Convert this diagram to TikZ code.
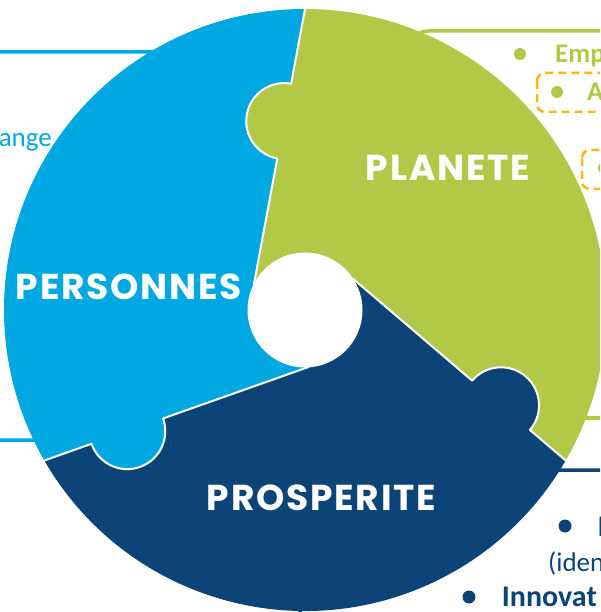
\documentclass[tikz,border=0pt]{standalone}
\usepackage{fontspec}
\setmainfont{Carlito}
\newfontfamily\piecefont[LetterSpace=5]{Poppins}
\usepackage{xcolor}
\usepackage{tikz}
\usetikzlibrary{positioning}

\definecolor{personnes}{RGB}{0,168,225}
\definecolor{planete}{RGB}{177,201,70}
\definecolor{prosperite}{RGB}{13,68,119}
\definecolor{goldline}{RGB}{253,183,20}

\begin{document}
\begin{tikzpicture}[x=1pt, y=1pt,
  seam/.style={white, line width=2pt, line join=round},
  box/.style={line width=3.5pt, rounded corners=18pt},
  dashbox/.style={goldline, line width=2.5pt, dash pattern=on 8pt off 5pt, rounded corners=8pt},
  bullet/.style={circle, fill, inner sep=0pt, minimum size=12pt},
  piece/.style={text=white, inner sep=0pt, font=\piecefont\bfseries\fontsize{36}{36}\selectfont},
  side/.style={inner sep=0pt, anchor=base west, font=\fontsize{27}{30}\selectfont},
  sidebold/.style={side, font=\bfseries\fontsize{27}{30}\selectfont}]

\useasboundingbox (-305,-302) rectangle (295,310);
\clip (-305,-302) rectangle (295,310);

% Draw boxes behind the wheel
\draw[box, personnes] (-345,258) rectangle (-55,-130);
\draw[box, planete] (105,279) rectangle (355,-108);
\draw[box, prosperite] (-5,-160) rectangle (355,-360);
\draw[dashbox] (232,237) rectangle (360,198);
\draw[dashbox] (277,160) rectangle (360,121);

% Draw texts beside the wheel
\node[side, personnes, anchor=base east] (change) at (-253,163) {ange};
\node[bullet, planete] (dot1) at (215,256) {};
\node[sidebold, planete] (emp) at (250,247.7) {Emp};
\node[bullet, planete] (dot2) at (252,218) {};
\node[sidebold, planete] (a) at (282,209.3) {A};
\node[bullet, planete] (dot3) at (299,142) {};
\node[bullet, prosperite, minimum size=13pt] (dot4) at (260,-216) {};
\node[sidebold, prosperite, font=\bfseries\fontsize{30}{32}\selectfont] (i) at (292.5,-226) {I};
\node[side, prosperite] (iden) at (243,-261.7) {(iden};
\node[bullet, prosperite, minimum size=13pt] (dot5) at (164,-287) {};
\node[sidebold, prosperite, font=\bfseries\fontsize{30}{32}\selectfont] (innov) at (196.7,-296.7) {Innovat};

% Draw pieces
\coordinate (O) at (0,0);
\coordinate (A1) at (90:301);
\coordinate (A2) at (154:57);
\coordinate (B1) at (-30:301);
\coordinate (B2) at (34:57);
\coordinate (C1) at (210:301);
\coordinate (C2) at (274:57);
\fill[planete] (A1) -- (A2) -- (O) -- (B2) -- (B1) arc[start angle=-30, end angle=90, radius=301] -- cycle;
\fill[personnes] (C1) -- (C2) -- (O) -- (A2) -- (A1) arc[start angle=90, end angle=210, radius=301] -- cycle;
\fill[prosperite] (B1) -- (B2) -- (O) -- (C2) -- (C1) arc[start angle=210, end angle=330, radius=301] -- cycle;

% Draw tabs and seams
\begin{scope}[shift={(A1)}, rotate=259.5]
  \fill[planete] (114,0) circle[radius=38];
  \draw[seam] (A1) -- (76,0) arc[start angle=180, end angle=360, radius=38] -- (A2);
\end{scope}
\begin{scope}[shift={(B1)}, rotate=139.5]
  \fill[prosperite] (85,0) circle[radius=38];
  \draw[seam] (B1) -- (47,0) arc[start angle=180, end angle=360, radius=38] -- (B2);
\end{scope}
\begin{scope}[shift={(C1)}, rotate=19.5]
  \fill[personnes] (88,0) circle[radius=38];
  \draw[seam] (C1) -- (50,0) arc[start angle=180, end angle=360, radius=38] -- (C2);
\end{scope}

% Draw hole
\node[circle, fill=white, minimum size=115pt, inner sep=0pt] (hole) at (O) {};

% Draw labels
\node[piece] (pers) at (-176,23) {PERSONNES};
\node[piece] (plan) at (143,142.5) {PLANETE};
\node[piece] (prosp) at (16.5,-188) {PROSPERITE};

\end{tikzpicture}
\end{document}
